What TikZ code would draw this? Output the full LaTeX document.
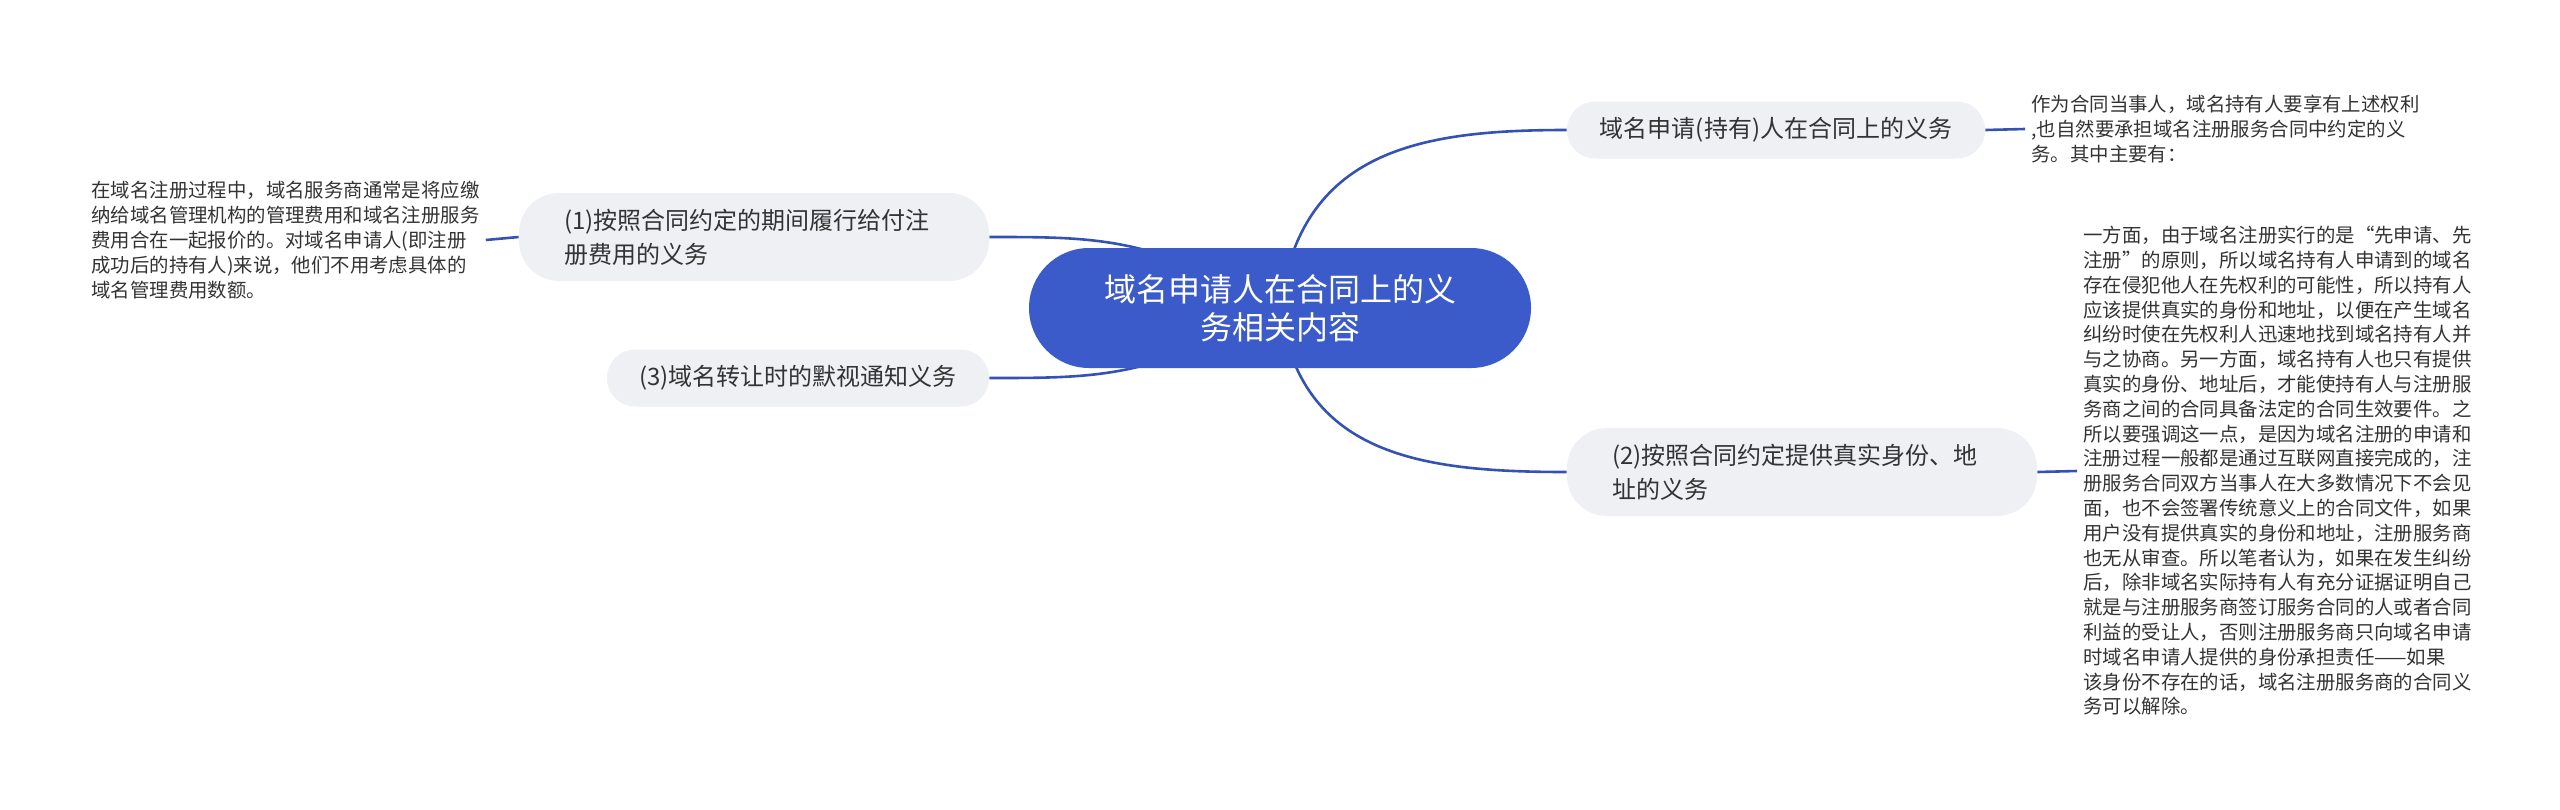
\documentclass[tikz,border=0pt]{standalone}
\usepackage{fontspec}
\setmainfont{Noto Sans CJK SC}
\usetikzlibrary{backgrounds}
\definecolor{textc}{HTML}{333333}
\definecolor{subfill}{HTML}{EEF0F4}
\definecolor{rootfill}{HTML}{3A5BC9}
\definecolor{linec}{HTML}{3452B4}
\begin{document}
\begin{tikzpicture}[x=0.5pt,y=-0.5pt,
  conn/.style={draw=linec, line width=1.3pt},
  rootbox/.style={fill=rootfill, text=white, font=\fontsize{16}{19}\selectfont, align=center, inner sep=0pt, minimum width=251pt, minimum height=60pt, rounded corners=30pt},
  subbig/.style={fill=subfill, text=textc, font=\fontsize{12}{17}\selectfont, align=left, text width=190pt, inner sep=0pt, minimum width=235pt, minimum height=44pt, rounded corners=20pt},
  subsmall/.style={fill=subfill, text=textc, font=\fontsize{12}{16}\selectfont, inner sep=0pt, minimum height=28.5pt, rounded corners=14pt},
  note/.style={text=textc, font=\fontsize{9.7}{12.4}\selectfont, align=left, inner xsep=3pt, inner ysep=0pt, anchor=west}]
\useasboundingbox (0,0) rectangle (2560,809);
\node[rootbox] (root) at (1280,308) {域名申请人在合同上的义\\务相关内容};
\node[subsmall, minimum width=209pt] (nA) at (1776,130) {域名申请(持有)人在合同上的义务};
\node[subbig] (n1) at (754,237) {(1)按照合同约定的期间履行给付注\\册费用的义务};
\node[subsmall, minimum width=191pt] (n3) at (798,378) {(3)域名转让时的默视通知义务};
\node[subbig] (n2) at (1802,472) {(2)按照合同约定提供真实身份、地\\址的义务};
\node[note] (tA) at (2025,129) {作为合同当事人，域名持有人要享有上述权利\\,也自然要承担域名注册服务合同中约定的义\\务。其中主要有：};
\node[note] (t1) at (85,240) {在域名注册过程中，域名服务商通常是将应缴\\纳给域名管理机构的管理费用和域名注册服务\\费用合在一起报价的。对域名申请人(即注册\\成功后的持有人)来说，他们不用考虑具体的\\域名管理费用数额。};
\node[note] (t2) at (2077,471) {一方面，由于域名注册实行的是“先申请、先\\注册”的原则，所以域名持有人申请到的域名\\存在侵犯他人在先权利的可能性，所以持有人\\应该提供真实的身份和地址，以便在产生域名\\纠纷时使在先权利人迅速地找到域名持有人并\\与之协商。另一方面，域名持有人也只有提供\\真实的身份、地址后，才能使持有人与注册服\\务商之间的合同具备法定的合同生效要件。之\\所以要强调这一点，是因为域名注册的申请和\\注册过程一般都是通过互联网直接完成的，注\\册服务合同双方当事人在大多数情况下不会见\\面，也不会签署传统意义上的合同文件，如果\\用户没有提供真实的身份和地址，注册服务商\\也无从审查。所以笔者认为，如果在发生纠纷\\后，除非域名实际持有人有充分证据证明自己\\就是与注册服务商签订服务合同的人或者合同\\利益的受让人，否则注册服务商只向域名申请\\时域名申请人提供的身份承担责任——如果\\该身份不存在的话，域名注册服务商的合同义\\务可以解除。};
\begin{scope}[on background layer]
\draw[conn] (root.center) .. controls (1150,237) and (1100,237) .. (n1.east);
\draw[conn] (root.center) .. controls (1150,378) and (1100,378) .. (n3.east);
\draw[conn] (root.center) .. controls (1300,150) and (1420,130) .. (nA.west);
\draw[conn] (root.center) .. controls (1300,455) and (1420,472) .. (n2.west);
\draw[conn] (nA.east) -- (tA.west);
\draw[conn] (n1.west) -- (t1.east);
\draw[conn] (n2.east) -- (t2.west);
\end{scope}
\end{tikzpicture}
\end{document}
